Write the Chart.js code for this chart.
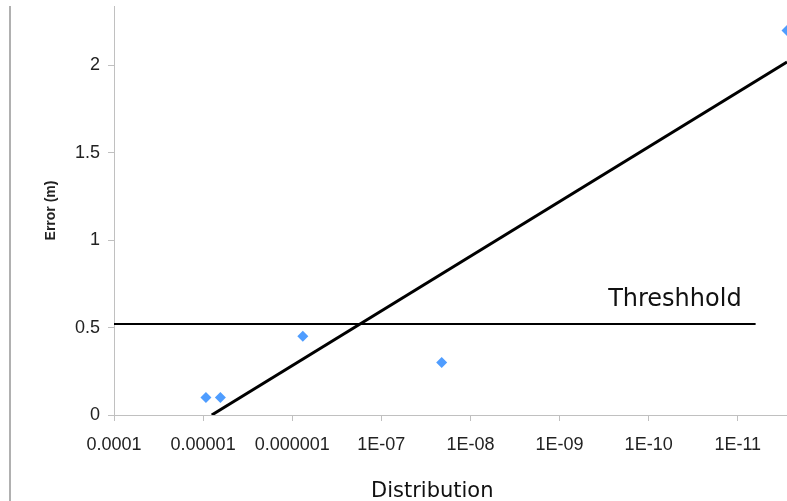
<!DOCTYPE html>
<html>
<head>
<meta charset="utf-8">
<script src="https://cdn.jsdelivr.net/npm/chart.js@4/dist/chart.umd.min.js"></script>
<style>
  html, body { margin: 0; padding: 0; background: #ffffff; overflow: hidden; }
  #wrap { width: 787px; height: 501px; position: relative; }
</style>
</head>
<body>
<div id="wrap"><canvas id="c" width="787" height="501"></canvas></div>
<script>
// ---- data ----
const xTickValues = [1e-4, 1e-5, 1e-6, 1e-7, 1e-8, 1e-9, 1e-10, 1e-11];
const xTickLabels = ['0.0001', '0.00001', '0.000001', '1E-07', '1E-08', '1E-09', '1E-10', '1E-11'];
const yTickValues = [0, 0.5, 1, 1.5, 2];
const yTickLabels = ['0', '0.5', '1', '1.5', '2'];
const distribution = [9.3e-6, 6.4e-6, 7.6e-7, 2.1e-8, 2.8e-12];
const errorM = [0.1, 0.1, 0.45, 0.3, 2.2];
const trendX = [8.0e-6, 2.8e-12];
const trendY = [0, 2.02];
const thresholdX = [1e-4, 6.3e-12];
const thresholdY = [0.52, 0.52];
const thresholdLabel = 'Threshhold';
const xTitle = 'Distribution';
const yTitle = 'Error (m)';
const xRange = [2.8e-12, 1e-4];
const yRange = [0, 2.34];

const toPts = (xs, ys) => xs.map((x, i) => ({ x: x, y: ys[i] }));

const extras = {
  id: 'extras',
  beforeDraw(chart) {
    const ctx = chart.ctx;
    ctx.save();
    ctx.strokeStyle = '#b0b0b0';
    ctx.lineWidth = 2;
    ctx.beginPath();
    ctx.moveTo(10, chart.chartArea.top);
    ctx.lineTo(10, chart.height);
    ctx.stroke();
    ctx.restore();
  },
  afterDraw(chart) {
    const ctx = chart.ctx;
    const xs = chart.scales.x, ys = chart.scales.y;
    ctx.save();
    ctx.fillStyle = '#111111';
    ctx.font = '24px "DejaVu Sans"';
    ctx.textAlign = 'right';
    ctx.textBaseline = 'alphabetic';
    const tx = xs.getPixelForValue(thresholdX[1]) - 14;
    const ty = ys.getPixelForValue(thresholdY[1]) - 18;
    ctx.fillText(thresholdLabel, tx, ty);
    ctx.font = '21px "DejaVu Sans"';
    ctx.textAlign = 'left';
    ctx.fillText(xTitle, 371, 497);
    ctx.restore();
  }
};

new Chart(document.getElementById('c'), {
  type: 'scatter',
  data: {
    datasets: [
      {
        label: 'Error',
        data: toPts(distribution, errorM),
        pointStyle: 'rectRot',
        pointRadius: 5.5,
        pointBorderWidth: 0,
        backgroundColor: '#4f9dff',
        borderColor: '#4f9dff',
        showLine: false,
        order: 0
      },
      {
        label: 'Trend',
        data: toPts(trendX, trendY),
        showLine: true,
        borderColor: '#000000',
        borderWidth: 3,
        pointRadius: 0,
        order: 1
      },
      {
        label: 'Threshold',
        data: toPts(thresholdX, thresholdY),
        showLine: true,
        borderColor: '#000000',
        borderWidth: 2,
        pointRadius: 0,
        order: 2
      }
    ]
  },
  options: {
    responsive: false,
    animation: false,
    devicePixelRatio: 1,
    layout: { autoPadding: false, padding: { top: 6, left: 0, right: 0, bottom: 0 } },
    plugins: { legend: { display: false }, tooltip: { enabled: false } },
    scales: {
      x: {
        type: 'logarithmic',
        reverse: true,
        min: xRange[0],
        max: xRange[1],
        afterBuildTicks(scale) { scale.ticks = xTickValues.map(v => ({ value: v })); },
        afterFit(scale) { scale.height = 86; scale.paddingLeft = 0; scale.paddingRight = 0; },
        ticks: {
          autoSkip: false,
          maxRotation: 0,
          padding: 13,
          color: '#222222',
          font: { family: '"Liberation Sans", Arial, sans-serif', size: 18 },
          callback(value) {
            const i = xTickValues.findIndex(v => Math.abs(Math.log10(v) - Math.log10(value)) < 1e-6);
            return i >= 0 ? xTickLabels[i] : '';
          }
        },
        grid: { drawOnChartArea: false, drawTicks: true, tickLength: 6, color: '#c0c0c0', lineWidth: 1 },
        border: { display: true, color: '#c0c0c0', width: 1 },
        title: { display: false }
      },
      y: {
        type: 'linear',
        min: yRange[0],
        max: yRange[1],
        afterBuildTicks(scale) { scale.ticks = yTickValues.map(v => ({ value: v })); },
        afterFit(scale) { scale.width = 114; scale.paddingTop = 0; scale.paddingBottom = 0; },
        ticks: {
          padding: 8,
          color: '#222222',
          font: { family: '"Liberation Sans", Arial, sans-serif', size: 18 },
          callback(value) {
            const i = yTickValues.indexOf(value);
            return i >= 0 ? yTickLabels[i] : '';
          }
        },
        grid: { drawOnChartArea: false, drawTicks: true, tickLength: 6, color: '#c0c0c0', lineWidth: 1 },
        border: { display: true, color: '#c0c0c0', width: 1 },
        title: {
          display: true,
          text: yTitle,
          color: '#222222',
          font: { family: '"Liberation Sans", Arial, sans-serif', size: 14, weight: 'bold' },
          padding: { top: 43, bottom: 0 }
        }
      }
    }
  },
  plugins: [extras]
});
</script>
</body>
</html>
